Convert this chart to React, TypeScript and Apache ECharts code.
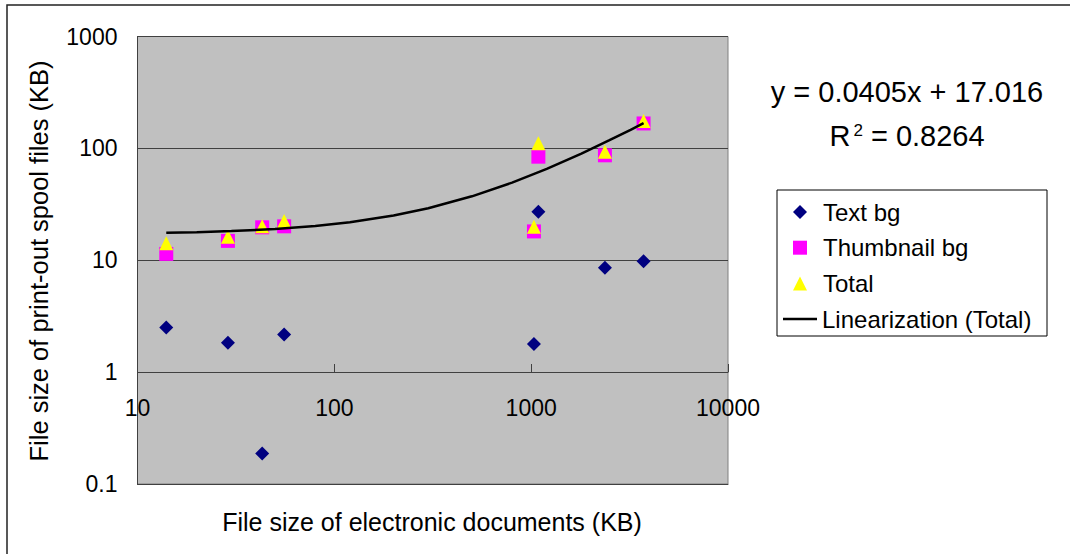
import React, { useEffect, useRef } from "react";
import * as echarts from "echarts";

// ---- data ----
const docSizes = [14, 28.8, 43, 55.6, 1033, 1088, 2370, 3725];
const textBg = [2.5, 1.83, 0.187, 2.17, 1.78, 27.2, 8.57, 9.8];
const thumbnailBg = [11.4, 14.9, 19.7, 20.1, 18.1, 84.3, 86.7, 167];
const total = [14.2, 16.2, 20.1, 22.4, 19.9, 111, 93.4, 176];

// fitted trend line (Total), sampled along the drawn curve
const trendX = [14, 20, 30, 50, 80, 120, 200, 300, 500, 800, 1200, 1800, 2500, 3200, 3725];
const trendY = [17.58, 17.83, 18.23, 19.04, 20.26, 21.88, 25.12, 29.17, 37.27, 49.42, 65.62, 89.92, 118.27, 146.62, 167.88];

const seriesNames = ["Text bg", "Thumbnail bg", "Total", "Linearization (Total)"];
const equationText = "y = 0.0405x + 17.016";
const r2Value = "0.8264";
const xTitle = "File size of electronic documents (KB)";
const yTitle = "File size of print-out spool files (KB)";

const FONT = "'Liberation Sans', Arial, sans-serif";

function pairs(xs: number[], ys: number[]) {
  return xs.map((x, i) => [x, ys[i]]);
}

const fmt = (v: number) => String(Number(v.toPrecision(6)));

export default function App() {
  const ref = useRef<HTMLDivElement>(null);
  useEffect(() => {
    if (!ref.current) return;
    const chart = echarts.init(ref.current, undefined, { renderer: "svg" });
    const gridLeft = 137.5;
    const gridRight = 1070 - 728;
    const gridTop = 36.5;
    const gridBottom = 554 - 484;
    const legendText = { fontSize: 24, lineHeight: 24, color: "#000", fontFamily: FONT };
    chart.setOption({
      animation: false,
      backgroundColor: "#ffffff",
      textStyle: { fontFamily: FONT },
      grid: [
        {
          left: gridLeft,
          right: gridRight,
          top: gridTop,
          bottom: gridBottom,
          show: true,
          backgroundColor: "#c0c0c0",
          borderColor: "#808080",
          borderWidth: 1,
        },
        {
          left: gridLeft,
          right: gridRight,
          top: gridTop,
          bottom: 554 - 372,
          show: false,
        },
      ],
      xAxis: [
        {
          type: "log",
          logBase: 10,
          min: 10,
          max: 10000,
          gridIndex: 0,
          axisLine: { show: true, lineStyle: { color: "#404040", width: 1 } },
          axisTick: { show: false },
          axisLabel: { show: false },
          splitLine: { show: false },
          minorTick: { show: false },
        },
        {
          type: "log",
          logBase: 10,
          min: 10,
          max: 10000,
          gridIndex: 1,
          position: "bottom",
          axisLine: { show: true, lineStyle: { color: "#404040", width: 1 } },
          axisTick: { show: true, inside: true, length: 8, lineStyle: { color: "#404040" } },
          axisLabel: { show: true, margin: 24, fontSize: 23, color: "#000", fontFamily: FONT, formatter: fmt },
          splitLine: { show: false },
        },
      ],
      yAxis: [
        {
          type: "log",
          logBase: 10,
          min: 0.1,
          max: 1000,
          gridIndex: 0,
          axisLine: { show: true, lineStyle: { color: "#404040", width: 1 } },
          axisTick: { show: true, inside: true, length: 9, lineStyle: { color: "#404040" } },
          axisLabel: { show: true, margin: 20, fontSize: 23, color: "#000", fontFamily: FONT, formatter: fmt },
          splitLine: { show: true, lineStyle: { color: "#404040", width: 1 } },
        },
        {
          type: "log",
          logBase: 10,
          min: 1,
          max: 1000,
          gridIndex: 1,
          show: false,
        },
      ],
      legend: [
        {
          left: 793,
          top: 200,
          orient: "vertical",
          itemWidth: 14,
          itemHeight: 14,
          itemGap: 11.7,
          padding: 0,
          textStyle: { ...legendText, padding: [0, 0, 0, 11] },
          data: [
            { name: seriesNames[0], icon: "diamond" },
            { name: seriesNames[1], icon: "rect" },
            { name: seriesNames[2], icon: "triangle" },
          ],
        },
        {
          left: 783,
          top: 307,
          orient: "vertical",
          itemWidth: 34,
          itemHeight: 2.5,
          padding: 0,
          textStyle: legendText,
          data: [{ name: seriesNames[3], icon: "rect" }],
        },
      ],
      graphic: [
        {
          type: "rect",
          shape: { x: 7, y: 5, width: 1080, height: 570 },
          style: { fill: "none", stroke: "#222", lineWidth: 1.5 },
          silent: true,
          z: -10,
        },
        {
          type: "rect",
          shape: { x: 777, y: 190, width: 270, height: 146 },
          style: { fill: "#fff", stroke: "#000", lineWidth: 1 },
          silent: true,
          z: -5,
        },
        {
          type: "text",
          x: 907,
          y: 92,
          style: {
            text: equationText,
            fontSize: 29,
            fontFamily: FONT,
            fill: "#000",
            align: "center",
            verticalAlign: "middle",
          },
        },
        {
          type: "text",
          x: 907,
          y: 136,
          style: {
            text: "{a|R}{s|2}{a| = " + r2Value + "}",
            fontFamily: FONT,
            fill: "#000",
            align: "center",
            verticalAlign: "middle",
            rich: {
              a: { fontSize: 29, fontFamily: FONT, fill: "#000" },
              s: { fontSize: 17, fontFamily: FONT, fill: "#000", verticalAlign: "top", padding: [0, 0, 12, 3] },
            },
          },
        },
        {
          type: "text",
          x: 432,
          y: 522,
          style: {
            text: xTitle,
            fontSize: 25,
            fontFamily: FONT,
            fill: "#000",
            align: "center",
            verticalAlign: "middle",
          },
        },
        {
          type: "text",
          x: 39,
          y: 261,
          rotation: Math.PI / 2,
          style: {
            text: yTitle,
            fontSize: 25.5,
            fontFamily: FONT,
            fill: "#000",
            align: "center",
            verticalAlign: "middle",
          },
        },
      ],
      series: [
        {
          name: seriesNames[0],
          type: "scatter",
          xAxisIndex: 0,
          yAxisIndex: 0,
          symbol: "diamond",
          symbolSize: 14,
          itemStyle: { color: "#000080", opacity: 1 },
          data: pairs(docSizes, textBg),
        },
        {
          name: seriesNames[1],
          type: "scatter",
          xAxisIndex: 0,
          yAxisIndex: 0,
          symbol: "rect",
          symbolSize: 14,
          itemStyle: { color: "#ff00ff", opacity: 1 },
          data: pairs(docSizes, thumbnailBg),
        },
        {
          name: seriesNames[2],
          type: "scatter",
          xAxisIndex: 0,
          yAxisIndex: 0,
          symbol: "triangle",
          symbolSize: 14,
          itemStyle: { color: "#ffff00", opacity: 1 },
          data: pairs(docSizes, total),
        },
        {
          name: seriesNames[3],
          type: "line",
          xAxisIndex: 0,
          yAxisIndex: 0,
          symbol: "none",
          showSymbol: false,
          lineStyle: { color: "#000", width: 2.5 },
          itemStyle: { color: "#000" },
          data: pairs(trendX, trendY),
          z: 5,
        },
      ],
    });
    return () => chart.dispose();
  }, []);
  return (
    <div
      ref={ref}
      style={{ position: "fixed", left: 0, top: 0, width: 1070, height: 554 }}
    />
  );
}
